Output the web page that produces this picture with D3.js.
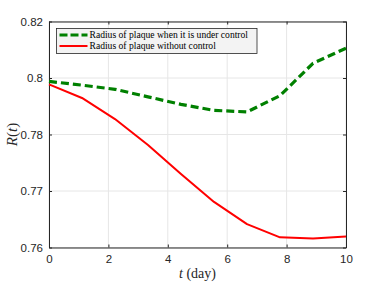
<!DOCTYPE html>
<html>
<head>
<meta charset="utf-8">
<script src="https://cdn.jsdelivr.net/npm/d3@7"></script>
<style>
  body { margin: 0; background: #fff; }
  svg { display: block; }
</style>
</head>
<body>
<div id="graf"></div>
<script>
// datos
const tiempos = [0, 1.111, 2.222, 3.333, 4.444, 5.556, 6.667, 7.778, 8.889, 10];
const radioControl = [0.8041, 0.8031, 0.8020, 0.8000, 0.7980, 0.7964, 0.7960, 0.8003, 0.8089, 0.8129];
const radioSinControl = [0.8033, 0.7997, 0.7941, 0.7872, 0.7795, 0.7721, 0.7662, 0.7627, 0.7624, 0.7629];
const xTicks = [0, 2, 4, 6, 8, 10];
const yTicks = [0.76, 0.775, 0.79, 0.805, 0.82];
const yTickLabels = ["0.76", "0.77", "0.78", "0.8", "0.82"];
const leyendas = ["Radius of plaque when it is under control", "Radius of plaque without control"];

const ancho = 382, alto = 286;
const margins = { left: 49, top: 21.5, right: 36, bottom: 38.5 };
const anchografica = ancho - margins.left - margins.right;
const altografica = alto - margins.top - margins.bottom;

const serif = "'Liberation Serif', 'Times New Roman', serif";
const sans = "'Liberation Sans', Arial, sans-serif";

const x = d3.scaleLinear().domain([0, 10]).range([0, anchografica]);
const y = d3.scaleLinear().domain([0.76, 0.82]).range([altografica, 0]);

const svg = d3.select("#graf").append("svg")
  .attr("width", ancho).attr("height", alto);

const g = svg.append("g")
  .attr("transform", `translate(${margins.left}, ${margins.top})`);

// rejilla
g.append("g").selectAll("line").data(xTicks).join("line")
  .attr("x1", d => x(d)).attr("x2", d => x(d))
  .attr("y1", 0).attr("y2", altografica)
  .attr("stroke", "#e6e6e6").attr("stroke-width", 1);
g.append("g").selectAll("line").data(yTicks).join("line")
  .attr("x1", 0).attr("x2", anchografica)
  .attr("y1", d => y(d)).attr("y2", d => y(d))
  .attr("stroke", "#e6e6e6").attr("stroke-width", 1);

// ejes
const estiloEje = (sel) => {
  sel.select(".domain").attr("stroke", "#262626");
  sel.selectAll(".tick line").attr("stroke", "#262626");
  sel.selectAll(".tick text")
    .attr("fill", "#262626")
    .style("font-family", sans)
    .style("font-size", "11.5px");
};
const xAxis = d3.axisBottom(x).tickValues(xTicks).tickFormat(d3.format("d"))
  .tickSizeInner(-3).tickSizeOuter(0).tickPadding(7);
const yAxis = d3.axisLeft(y).tickValues(yTicks).tickFormat((d, i) => yTickLabels[i])
  .tickSizeInner(-3).tickSizeOuter(0).tickPadding(6);
g.append("g").attr("transform", `translate(0, ${altografica})`).call(xAxis).call(estiloEje);
g.append("g").call(yAxis).call(estiloEje);
// ejes superior y derecho (caja)
g.append("g").call(d3.axisTop(x).tickValues(xTicks).tickFormat("").tickSizeInner(-3).tickSizeOuter(0)).call(estiloEje);
g.append("g").attr("transform", `translate(${anchografica}, 0)`)
  .call(d3.axisRight(y).tickValues(yTicks).tickFormat("").tickSizeInner(-3).tickSizeOuter(0)).call(estiloEje);

// líneas
const linea = (serie) => d3.line().x((d, i) => x(tiempos[i])).y(d => y(d))(serie);
g.append("path").attr("d", linea(radioSinControl))
  .attr("fill", "none").attr("stroke", "#ff0000").attr("stroke-width", 2)
  .attr("stroke-linejoin", "round");
g.append("path").attr("d", linea(radioControl))
  .attr("fill", "none").attr("stroke", "#008000").attr("stroke-width", 3.2)
  .attr("stroke-dasharray", "8,4");

// leyenda
const leg = svg.append("g").attr("transform", "translate(56.5, 28.5)");
leg.append("rect").attr("width", 200.5).attr("height", 25)
  .attr("fill", "#f3f3f3").attr("stroke", "#262626").attr("stroke-width", 0.8);
const estilos = [
  { color: "#008000", w: 3.2, dash: "8,3" },
  { color: "#ff0000", w: 2, dash: null }
];
leyendas.forEach((t, i) => {
  const yy = 6.5 + i * 11;
  leg.append("line").attr("x1", 3).attr("x2", 31).attr("y1", yy).attr("y2", yy)
    .attr("stroke", estilos[i].color).attr("stroke-width", estilos[i].w)
    .attr("stroke-dasharray", estilos[i].dash);
  leg.append("text").attr("x", 33).attr("y", yy + 3)
    .style("font-family", serif)
    .style("font-size", "9.6px").attr("fill", "#000").text(t);
});

// títulos de ejes
svg.append("text")
  .attr("x", margins.left + anchografica / 2).attr("y", 278)
  .attr("text-anchor", "middle")
  .style("font-family", serif).style("font-size", "14px").attr("fill", "#262626")
  .html('<tspan font-style="italic">t</tspan> (day)');
svg.append("g").attr("transform", `translate(17, ${margins.top + altografica / 2}) rotate(-90)`)
  .append("text").attr("text-anchor", "middle")
  .style("font-family", serif).style("font-size", "15px").attr("fill", "#262626")
  .html('<tspan font-style="italic">R</tspan>(<tspan font-style="italic">t</tspan>)');
</script>
</body>
</html>
